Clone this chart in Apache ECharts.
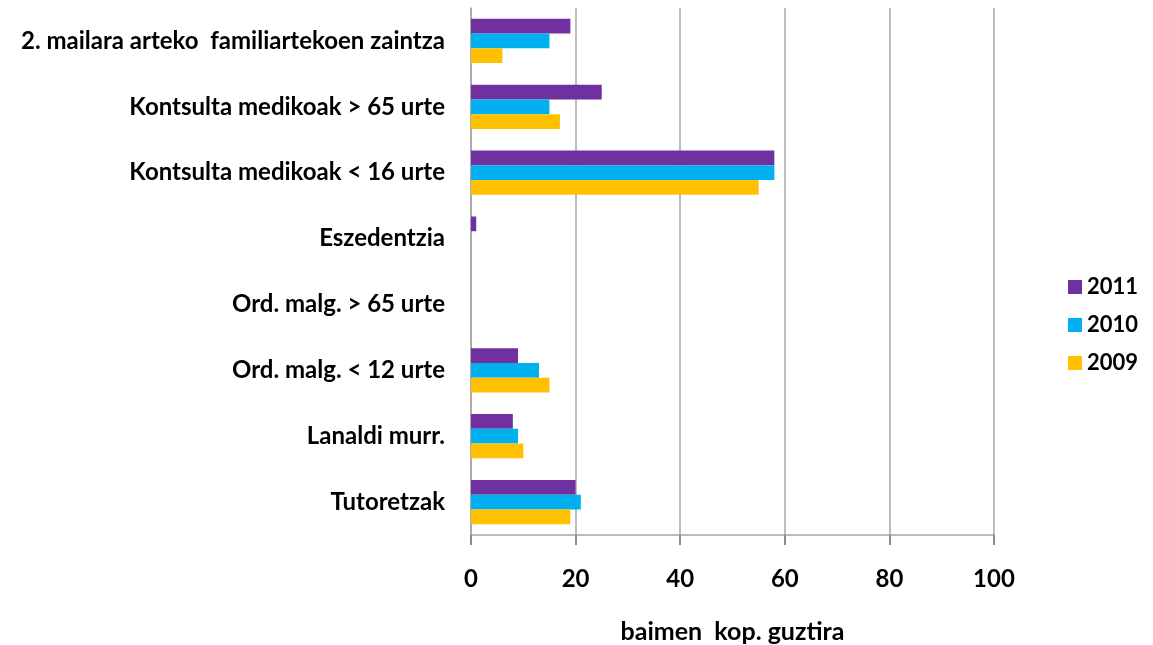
<!DOCTYPE html>
<html><head><meta charset="utf-8">
<script src="https://cdn.jsdelivr.net/npm/echarts@6/dist/echarts.min.js"></script>
<style>html,body{margin:0;padding:0;background:#fff}#c{width:1153px;height:645px}</style>
</head><body><div id="c"></div>
<script>
const categories = ["Tutoretzak","Lanaldi murr.","Ord. malg. < 12 urte","Ord. malg. > 65 urte","Eszedentzia","Kontsulta medikoak < 16 urte","Kontsulta medikoak > 65 urte","2. mailara arteko  familiartekoen zaintza"];
const s2011 = [20, 8, 9, 0, 1, 58, 25, 19];
const s2010 = [21, 9, 13, 0, 0, 58, 15, 15];
const s2009 = [19, 10, 15, 0, 0, 55, 17, 6];
const xTicks = [0, 20, 40, 60, 80, 100];
const font = "Lato, 'Open Sans', sans-serif";
const chart = echarts.init(document.getElementById('c'));
chart.setOption({
  animation: false,
  grid: {left: 471, right: 159, top: 8, bottom: 110, containLabel: false, outerBoundsMode: 'none'},
  legend: {
    orient: 'vertical', left: 1063, top: 271, itemGap: 16,
    itemWidth: 14, itemHeight: 14, icon: 'rect',
    data: ['2011','2010','2009'],
    textStyle: {fontFamily: font, fontSize: 22, fontWeight: 'bold', color: '#000'}
  },
  xAxis: {
    type: 'value', min: xTicks[0], max: xTicks[xTicks.length-1], interval: 20,
    name: 'baimen  kop. guztira', nameLocation: 'middle', nameGap: 84,
    nameTextStyle: {fontFamily: font, fontSize: 25, fontWeight: 'bold', color: '#000'},
    axisLine: {show: true, lineStyle: {color: '#a6a6a6', width: 1.5}},
    axisTick: {show: true, length: 10, lineStyle: {color: '#8c8c8c', width: 2}},
    axisLabel: {margin: 32, fontFamily: font, fontSize: 24, fontWeight: 'bold', color: '#000'},
    splitLine: {show: true, lineStyle: {color: '#a6a6a6', width: 1.5}}
  },
  yAxis: {
    type: 'category', data: categories,
    axisLine: {show: true, lineStyle: {color: '#a6a6a6', width: 1.5}},
    axisTick: {show: false},
    axisLabel: {margin: 26, fontFamily: font, fontSize: 24, fontWeight: 'bold', color: '#000'}
  },
  series: [
    {name: '2011', type: 'bar', data: s2011, itemStyle: {color: '#7030A0'}, barGap: '0%', barCategoryGap: '33%'},
    {name: '2010', type: 'bar', data: s2010, itemStyle: {color: '#00B0F0'}, barGap: '0%', barCategoryGap: '33%'},
    {name: '2009', type: 'bar', data: s2009, itemStyle: {color: '#FFC000'}, barGap: '0%', barCategoryGap: '33%'}
  ]
});
</script></body></html>
